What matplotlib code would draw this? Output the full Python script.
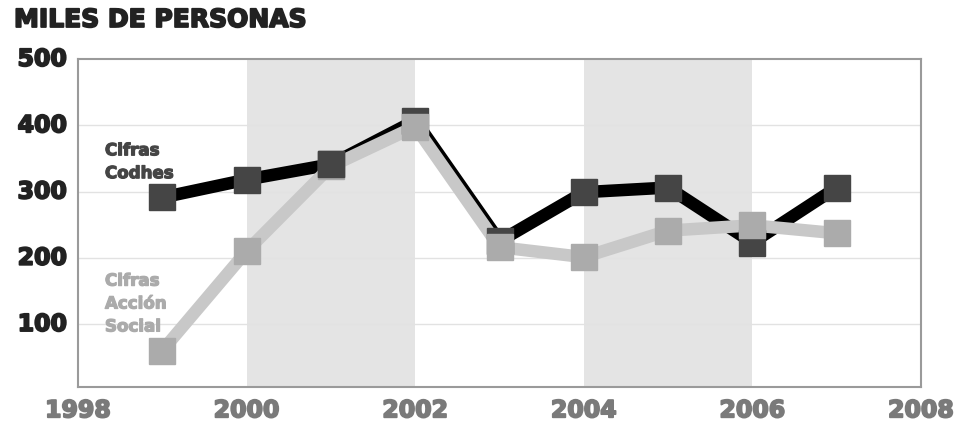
import matplotlib
matplotlib.use("Agg")
import matplotlib.pyplot as plt
import matplotlib.patheffects as pe

years = [1999, 2000, 2001, 2002, 2003, 2004, 2005, 2006, 2007]
codhes = [291, 318, 341, 407, 225, 299, 306, 223, 306]
accion = [60, 210, 338, 398, 216, 201, 241, 249, 237]
shaded = [(2000, 2002), (2004, 2006)]
yticks = [100, 200, 300, 400, 500]
xticks = [1998, 2000, 2002, 2004, 2006, 2008]

plt.rcParams['font.family'] = ['DejaVu Sans']

fig = plt.figure(figsize=(9.55, 4.21), dpi=100)
ax = fig.add_axes([78 / 955, 1 - 387 / 421, (921 - 78) / 955, (387 - 59) / 421])

for a, b in shaded:
    ax.axvspan(a, b, color="#e4e4e4", lw=0, zorder=0)
for y in yticks[:-1]:
    ax.axhline(y, color="#e2e2e2", lw=1, zorder=1)

# lines
ax.plot(years, codhes, color="black", lw=9, zorder=2, solid_joinstyle="miter")
ax.plot(years, accion, color="#c8c8c8", lw=9, zorder=3, solid_joinstyle="miter")
# markers
ax.plot(years, codhes, ls="none", marker="s", ms=19, color="#454545", zorder=4)
ax.plot(years, accion, ls="none", marker="s", ms=19, color="#ababab", zorder=5)
# 2001 Codhes marker sits on top in the original
ax.plot(years[2], codhes[2], ls="none", marker="s", ms=19, color="#454545", zorder=6)

ax.set_xlim(1998, 2008)
ax.set_ylim(5, 500)
ax.set_xticks(xticks)
ax.set_yticks(yticks)
ax.tick_params(length=0)
ax.set_xticklabels([])
ax.set_yticklabels([])
for s in ax.spines.values():
    s.set_color("#9a9a9a")
    s.set_linewidth(1.5)

def heavy(c, w=1.3):
    return [pe.withStroke(linewidth=w, foreground=c)]

for y in yticks:
    ax.text(1998 - 0.13, y, str(y), ha="right", va="center", fontsize=17,
            fontweight="bold", color="#222222", clip_on=False,
            path_effects=heavy("#222222"))
for x in xticks:
    ax.text(x, -12, str(x), ha="center", va="top", fontsize=17,
            fontweight="bold", color="#7a7a7a", clip_on=False,
            path_effects=heavy("#7a7a7a"))

ax.text(1998.32, 345, "Cifras\nCodhes", ha="left", va="center", fontsize=12,
        fontweight="bold", color="#454545", linespacing=1.35,
        path_effects=heavy("#454545", 0.9))
ax.text(1998.32, 131, "Cifras\nAcción\nSocial", ha="left", va="center", fontsize=12,
        fontweight="bold", color="#ababab", linespacing=1.35,
        path_effects=heavy("#ababab", 0.9))

fig.text(14 / 955, 1 - 20 / 421, "MILES DE PERSONAS", ha="left", va="center",
         fontsize=18, fontweight="bold", color="#222222",
         path_effects=heavy("#222222"))

fig.savefig("out.png", dpi=100)
